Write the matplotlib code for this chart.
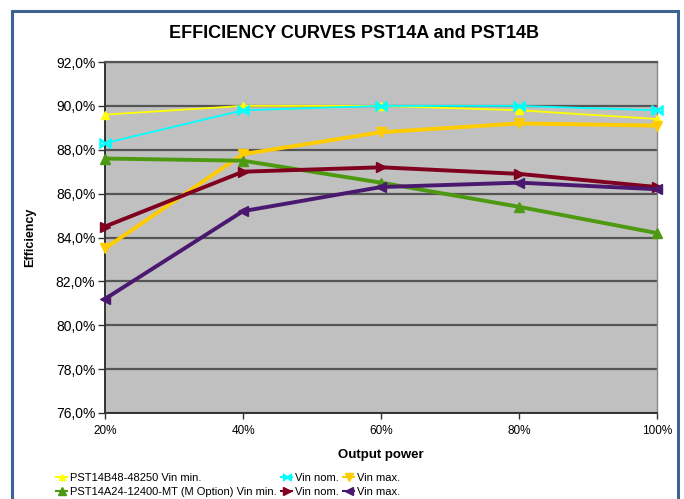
import matplotlib
matplotlib.use("Agg")
import matplotlib.pyplot as plt
from matplotlib.patches import Rectangle
from matplotlib.ticker import FuncFormatter

plt.rcParams['font.family'] = ['Liberation Sans', 'DejaVu Sans']

x_power = [20, 40, 60, 80, 100]
x_labels = ["20%", "40%", "60%", "80%", "100%"]
y_ticks = [76, 78, 80, 82, 84, 86, 88, 90, 92]

b_vin_min = [89.6, 90.0, 90.0, 89.8, 89.4]
b_vin_nom = [88.3, 89.8, 90.0, 90.0, 89.8]
b_vin_max = [83.5, 87.8, 88.8, 89.2, 89.1]
a_vin_min = [87.6, 87.5, 86.5, 85.4, 84.2]
a_vin_nom = [84.5, 87.0, 87.2, 86.9, 86.3]
a_vin_max = [81.2, 85.2, 86.3, 86.5, 86.2]

labels = ["PST14B48-48250 Vin min.", "Vin nom.", "Vin max.",
          "PST14A24-12400-MT (M Option) Vin min.", "Vin nom.", "Vin max."]

fig = plt.figure(figsize=(6.84, 4.99), dpi=100)
W, H = 684, 499
# outer frame
fig.patches.append(Rectangle((12 / W, -0.02), (678 - 12) / W, (H - 11) / H + 0.02,
                             transform=fig.transFigure, fill=False,
                             edgecolor='#3F6294', linewidth=2.2))

ax = fig.add_axes([105 / W, 1 - 413 / H, (657 - 105) / W, (413 - 62) / H])
ax.set_facecolor('#C0C0C0')

series = [
    (b_vin_min, '#FFFF00', '^', 1.3, 6),
    (b_vin_nom, '#00FFFF', '$\u22c8$', 1.3, 8),
    (b_vin_max, '#FFCC00', 'v', 2.8, 7.5),
    (a_vin_min, '#4D9A12', '^', 2.8, 7.5),
    (a_vin_nom, '#800020', '>', 2.8, 7.5),
    (a_vin_max, '#4B1870', '<', 2.8, 7.5),
]
handles = []
for vals, c, m, lw, ms in series:
    h, = ax.plot(x_power, vals, color=c, marker=m, linewidth=lw, markersize=ms,
                 markerfacecolor=c, markeredgecolor=c, clip_on=False, zorder=3)
    handles.append(h)

ax.set_xlim(20, 100)
ax.set_ylim(76, 92)
ax.set_xticks(x_power)
ax.set_xticklabels(x_labels, fontsize=8.5)
ax.set_yticks(y_ticks)
ax.yaxis.set_major_formatter(FuncFormatter(lambda v, p: f"{v:.1f}".replace('.', ',') + "%"))
ax.tick_params(axis='y', labelsize=10, length=5, width=1, color='#333333', pad=2)
ax.tick_params(axis='x', length=4, width=1, color='#333333', pad=5)
ax.grid(axis='y', color='#555555', linewidth=1.6)
ax.set_axisbelow(True)
for s in ['left', 'bottom']:
    ax.spines[s].set_color('#333333')
    ax.spines[s].set_linewidth(1.4)
ax.spines['right'].set_color('#888888')
ax.spines['right'].set_linewidth(1.0)
ax.spines['top'].set_color('#555555')
ax.spines['top'].set_linewidth(1.6)

ax.set_xlabel("Output power", fontsize=9.5, fontweight='bold', labelpad=8)
ax.set_ylabel("Efficiency", fontsize=9, fontweight='bold', labelpad=14)

fig.text(354 / W, 1 - 34 / H, "EFFICIENCY CURVES PST14A and PST14B", ha='center', va='center',
         fontsize=13, fontweight='bold')

order = [0, 3, 1, 4, 2, 5]
leg = fig.legend([handles[i] for i in order], [labels[i] for i in order],
                 loc='upper left', bbox_to_anchor=(56 / W, 1 - 473 / H), ncol=3,
                 frameon=False, fontsize=8, handlelength=1.0, handletextpad=0.25,
                 columnspacing=0.4, labelspacing=0.35, borderaxespad=0, borderpad=0,
                 markerscale=0.7)
for lh in leg.legend_handles:
    lh.set_linewidth(1.5)

fig.savefig("out.png", dpi=100)
